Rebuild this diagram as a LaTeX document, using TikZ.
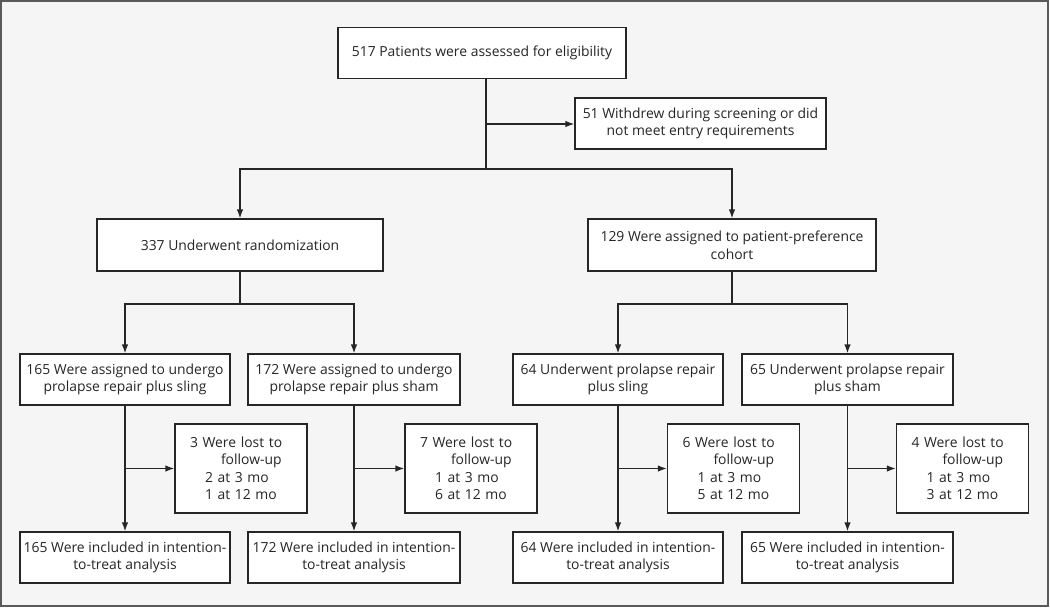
\documentclass[tikz,border=0pt]{standalone}
\usepackage{fontspec}
\setmainfont{Open Sans}
\usetikzlibrary{arrows.meta}
\definecolor{bg}{HTML}{F5F5F5}
\definecolor{framec}{HTML}{5A5A5A}
\definecolor{ink}{HTML}{262626}
\begin{document}
\begin{tikzpicture}[x=1pt,y=-1pt,
  box/.style={draw=ink, fill=white, line width=1.2pt, align=center, inner sep=0pt,
    font=\fontsize{13.9}{17.5}\selectfont, text=ink},
  lost/.style={box, align=left, inner xsep=15pt, text width=102pt, minimum width=132pt, minimum height=89pt},
  conn/.style={line width=1.4pt, draw=ink},
  arr/.style={conn, -{Latex[length=9pt,width=6.5pt]}}]
\useasboundingbox (0,0) rectangle (1050,608);
\draw[framec, line width=2.2pt, fill=bg] (1.1,1.1) rectangle (1048,606);

\node[box, minimum width=288pt, minimum height=51pt] (top) at (482,53) {517 Patients were assessed for eligibility};
\node[box, minimum width=251pt, minimum height=51pt] (wd) at (700.5,123.5) {51 Withdrew during screening or did\\not meet entry requirements};
\node[box, minimum width=286pt, minimum height=52pt] (rand) at (240,245) {337 Underwent randomization};
\node[box, minimum width=288pt, minimum height=52pt] (coh) at (732,245) {129 Were assigned to patient-preference\\cohort};

\node[box, minimum width=210pt, minimum height=51pt] (a1) at (125,379.5) {165 Were assigned to undergo\\prolapse repair plus sling};
\node[box, minimum width=212pt, minimum height=51pt] (b1) at (354,379.5) {172 Were assigned to undergo\\prolapse repair plus sham};
\node[box, minimum width=210pt, minimum height=51pt] (c1) at (618,379.5) {64 Underwent prolapse repair\\plus sling};
\node[box, minimum width=211pt, minimum height=51pt] (d1) at (847.5,379.5) {65 Underwent prolapse repair\\plus sham};

\node[lost] (la) at (241,468.5) {3 Were lost to\\\hspace*{31pt}follow-up\\\hspace*{15pt}2 at 3 mo\\\hspace*{15pt}1 at 12 mo};
\node[lost] (lb) at (471,468.5) {7 Were lost to\\\hspace*{31pt}follow-up\\\hspace*{15pt}1 at 3 mo\\\hspace*{15pt}6 at 12 mo};
\node[lost] (lc) at (733.5,468.5) {6 Were lost to\\\hspace*{31pt}follow-up\\\hspace*{15pt}1 at 3 mo\\\hspace*{15pt}5 at 12 mo};
\node[lost] (ld) at (962.5,468.5) {4 Were lost to\\\hspace*{31pt}follow-up\\\hspace*{15pt}1 at 3 mo\\\hspace*{15pt}3 at 12 mo};

\node[box, minimum width=210pt, minimum height=51pt] (a2) at (125,557.5) {165 Were included in intention-\\to-treat analysis};
\node[box, minimum width=212pt, minimum height=51pt] (b2) at (354,557.5) {172 Were included in intention-\\to-treat analysis};
\node[box, minimum width=210pt, minimum height=51pt] (c2) at (618,557.5) {64 Were included in intention-\\to-treat analysis};
\node[box, minimum width=211pt, minimum height=51pt] (d2) at (847.5,557.5) {65 Were included in intention-\\to-treat analysis};

\coordinate (t1) at (486,124);
\coordinate (t2) at (486,169);
\coordinate (r1) at (240,304);
\coordinate (c0) at (732,304);

\draw[conn] (top.south -| t1) -- (t2);
\draw[arr] (t1) -- (wd.west |- t1);
\draw[arr] (t2) -| (rand.north);
\draw[arr] (t2) -| (coh.north);

\draw[conn] (rand.south) -- (r1);
\draw[arr] (r1) -| (a1.north);
\draw[arr] (r1) -| (b1.north);
\draw[conn] (coh.south) -- (c0);
\draw[arr] (c0) -| (c1.north);
\draw[arr] (c0) -| (d1.north);

\foreach \u/\l/\v in {a1/la/a2, b1/lb/b2, c1/lc/c2, d1/ld/d2}{
  \draw[arr] (\u.south) -- (\v.north);
  \draw[arr] (\u.south |- \l.west) -- (\l.west);
}
\end{tikzpicture}
\end{document}
